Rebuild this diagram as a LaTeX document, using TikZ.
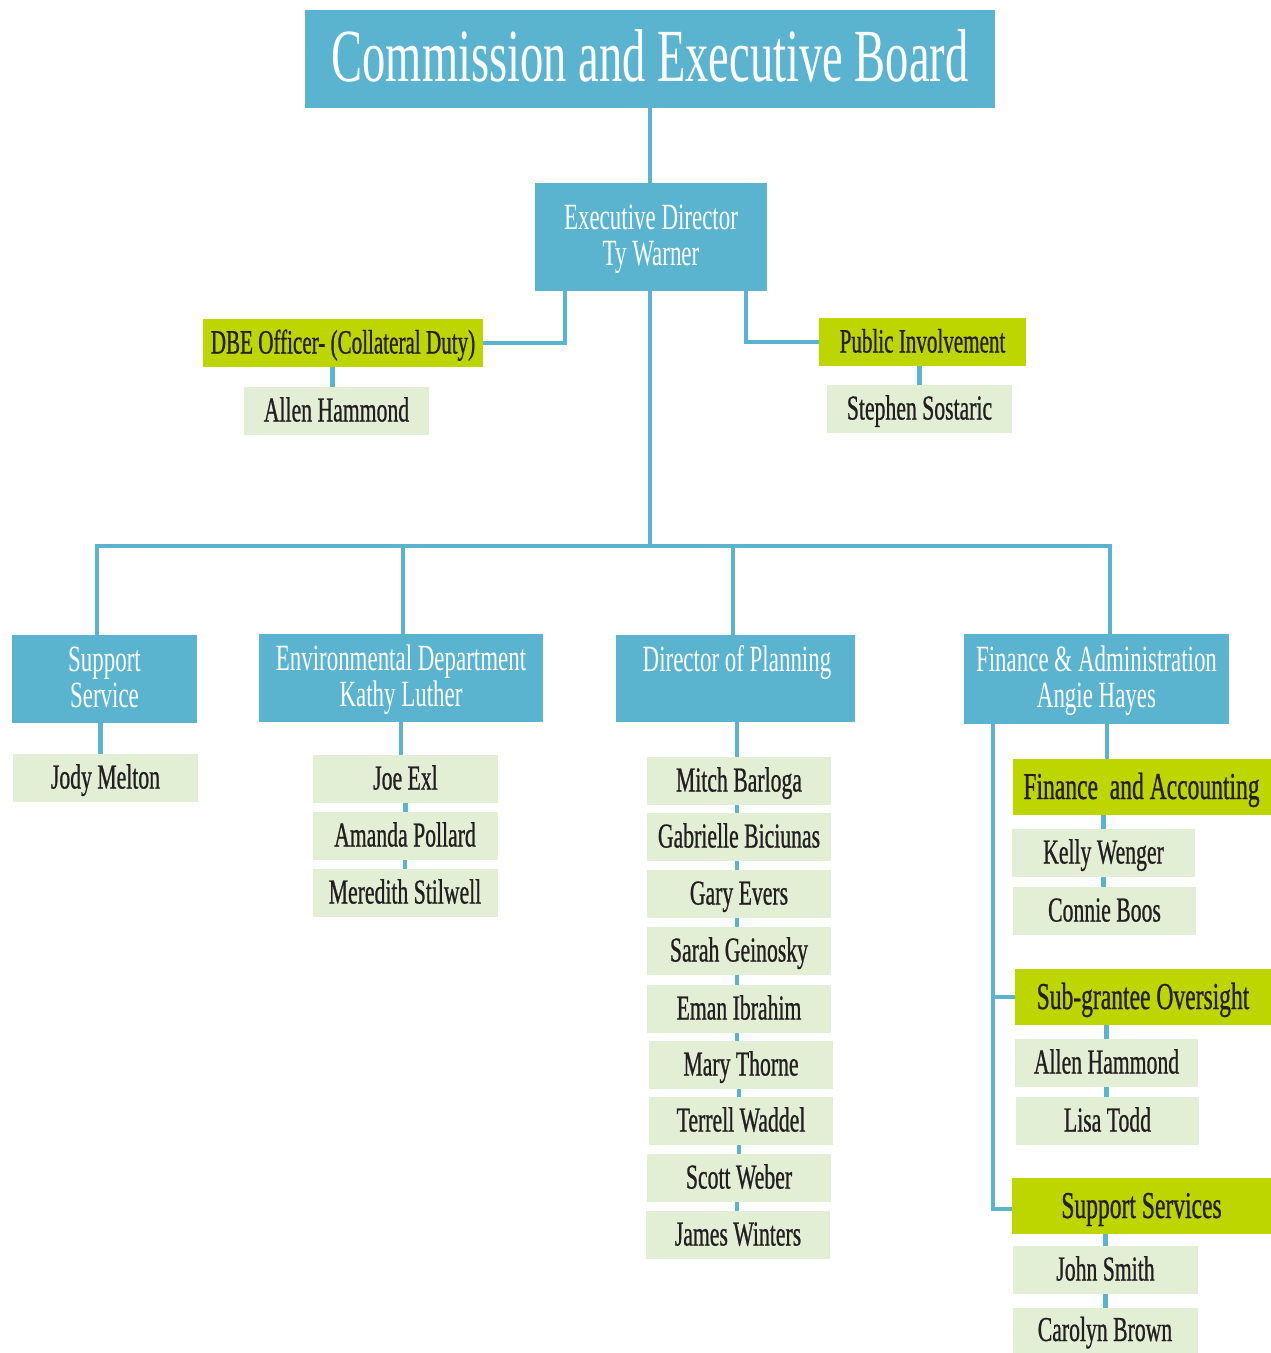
\documentclass[tikz,border=0pt]{standalone}
\usepackage{fontspec}
\setmainfont{Liberation Serif}[FakeStretch=0.62]
\newfontfamily\cfb{Liberation Serif}[FakeStretch=0.62,FakeBold=0.7]
\usetikzlibrary{calc}
\definecolor{cblue}{RGB}{91,180,207}
\definecolor{clime}{RGB}{189,214,0}
\definecolor{cpale}{RGB}{227,239,213}
\definecolor{ctext}{RGB}{35,31,32}
\begin{document}
\begin{tikzpicture}[x=1pt,y=-1pt,
  box/.style={rectangle, inner sep=0pt, align=center},
  bluebox/.style={box, fill=cblue, text=white, font=\fontsize{37}{36}\selectfont, text height=61pt, text depth=5pt},
  limebox/.style={box, fill=clime, text=ctext, font=\cfb\fontsize{34}{36}\selectfont, text height=26pt, text depth=5pt},
  sublime/.style={limebox, font=\cfb\fontsize{38}{38}\selectfont, text height=28pt, text depth=4pt, minimum width=258pt, minimum height=56pt},
  namebox/.style={box, fill=cpale, text=ctext, font=\cfb\fontsize{35}{36}\selectfont, minimum width=185pt, minimum height=48pt, text height=26pt, text depth=5pt},
  conn/.style={draw=cblue, line width=4.5pt}]
\useasboundingbox (0,0) rectangle (1271,1353);

\node[bluebox, minimum width=690pt, minimum height=98pt, font=\fontsize{75}{80}\selectfont, text height=52pt, text depth=8pt] (title) at (650,59) {Commission and Executive Board};
\node[bluebox, minimum width=232pt, minimum height=108pt] (ed) at (651,237) {Executive Director\\Ty Warner};
\node[limebox, minimum width=280pt, minimum height=48pt] (dbe) at (343,343) {DBE Officer- (Collateral Duty)};
\node[namebox] (ah1) at (336.5,411) {Allen Hammond};
\node[limebox, minimum width=207pt, minimum height=48pt] (pi) at (922.5,342) {Public Involvement};
\node[namebox] (sst) at (919.5,409) {Stephen Sostaric};

\node[bluebox, minimum width=185pt, minimum height=88pt] (ss) at (104.5,679) {Support\\Service};
\node[namebox] (jm) at (105.5,778) {Jody Melton};

\node[bluebox, minimum width=284pt, minimum height=88pt] (env) at (401,678) {Environmental Department\\Kathy Luther};
\node[namebox] (joe) at (405.5,779) {Joe Exl};
\node[namebox] (ap) at (405,836) {Amanda Pollard};
\node[namebox] (ms) at (405,893) {Meredith Stilwell};

\node[bluebox, minimum width=239pt, minimum height=87pt] (dop) at (735.5,678.5) {};
\node[text=white, font=\fontsize{37}{36}\selectfont, inner sep=0pt] (dopt) at (737,662) {Director of Planning};
\node[namebox, minimum width=184pt] (p1) at (739,781) {Mitch Barloga};
\node[namebox, minimum width=184pt] (p2) at (739,837) {Gabrielle Biciunas};
\node[namebox, minimum width=184pt] (p3) at (739,894) {Gary Evers};
\node[namebox, minimum width=184pt] (p4) at (739,951) {Sarah Geinosky};
\node[namebox, minimum width=184pt] (p5) at (739,1009) {Eman Ibrahim};
\node[namebox, minimum width=184pt] (p6) at (741,1065) {Mary Thorne};
\node[namebox, minimum width=184pt] (p7) at (741,1121) {Terrell Waddel};
\node[namebox, minimum width=184pt] (p8) at (739,1178) {Scott Weber};
\node[namebox, minimum width=184pt] (p9) at (738,1235) {James Winters};

\node[bluebox, minimum width=265pt, minimum height=90pt] (fa) at (1096.5,679) {Finance \& Administration\\Angie Hayes};
\node[sublime] (fac) at (1141.5,787) {Finance\ \ and Accounting};
\node[namebox, minimum width=183pt] (kw) at (1103.5,853) {Kelly Wenger};
\node[namebox, minimum width=183pt] (cb) at (1104.5,911) {Connie Boos};
\node[sublime, minimum width=256pt] (sgo) at (1143,997) {Sub-grantee Oversight};
\node[namebox, minimum width=183pt] (ah2) at (1106.5,1063) {Allen Hammond};
\node[namebox, minimum width=183pt] (lt) at (1107.5,1121) {Lisa Todd};
\node[sublime, minimum width=259pt] (sps) at (1141.5,1206) {Support Services};
\node[namebox] (js) at (1105.5,1270) {John Smith};
\node[namebox, minimum height=45pt] (cbr) at (1105,1330.5) {Carolyn Brown};

% connectors
\draw[conn] (title.south) -- (title.south |- ed.north);
\draw[conn] ([xshift=30pt]ed.south west) |- (dbe.east);
\draw[conn] ([xshift=-21pt]ed.south east) |- (pi.west);
\draw[conn] ([xshift=-4pt]ah1.north |- dbe.south) -- ([xshift=-4pt]ah1.north);
\draw[conn] (sst.north |- pi.south) -- (sst.north);

\coordinate (bus) at (650,546);
\coordinate (b1) at (97,546);
\coordinate (b2) at (403,546);
\coordinate (b3) at (733,546);
\coordinate (b4) at (1110,546);
\draw[conn] (bus |- ed.south) -- (bus);
\draw[conn, line cap=rect] (b1) -- (b4);
\draw[conn] (b1) -- (b1 |- ss.north);
\draw[conn] (b2) -- (b2 |- env.north);
\draw[conn] (b3) -- (b3 |- dop.north);
\draw[conn] (b4) -- (b4 |- fa.north);

\draw[conn] ([xshift=-4pt]ss.south) -- ([xshift=-4pt]ss.south |- jm.north);
\draw[conn] (env.south) -- (env.south |- joe.north);
\draw[conn] (joe.south) -- (joe.south |- ap.north);
\draw[conn] (ap.south) -- (ap.south |- ms.north);

\draw[conn] ([xshift=1.5pt]dop.south) -- ([xshift=1.5pt]dop.south |- p1.north);
\foreach \a/\b in {p1/p2,p2/p3,p3/p4,p4/p5,p5/p6,p6/p7,p7/p8,p8/p9}
  \draw[conn] ([xshift=-2pt]\a.south) -- ([xshift=-2pt]\a.south |- \b.north);

\coordinate (fab) at ([xshift=29pt]fa.south west);
\draw[conn] ([xshift=10.5pt]fa.south) -- ([xshift=10.5pt]fa.south |- fac.north);
\draw[conn] (kw.north |- fac.south) -- (kw.north);
\draw[conn] (kw.south) -- (kw.south |- cb.north);
\draw[conn] (fab) |- ([yshift=-3pt]sps.west);
\draw[conn] (fab |- sgo.west) -- (sgo.west);
\draw[conn] (ah2.north |- sgo.south) -- (ah2.north);
\draw[conn] (ah2.south) -- (ah2.south |- lt.north);
\draw[conn] (js.north |- sps.south) -- (js.north);
\draw[conn] (js.south) -- (js.south |- cbr.north);
\end{tikzpicture}
\end{document}
